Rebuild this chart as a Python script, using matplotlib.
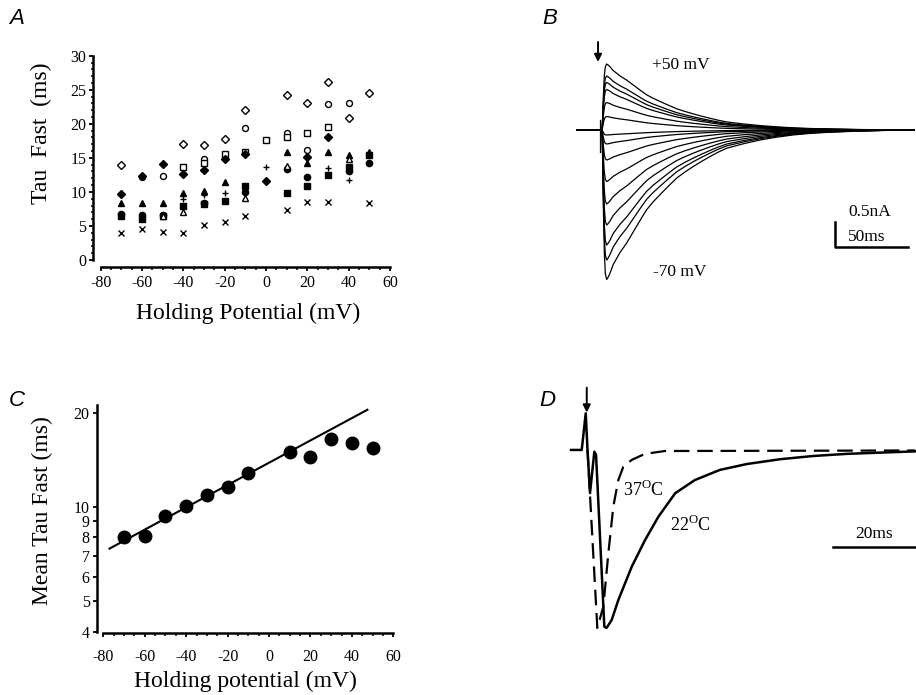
import numpy as np
import matplotlib
matplotlib.use('Agg')
import matplotlib.pyplot as plt
from matplotlib.ticker import MultipleLocator, FixedLocator, NullLocator, FixedFormatter

plt.rcParams['font.family'] = ['Liberation Serif', 'DejaVu Serif']
plt.rcParams['mathtext.fontset'] = 'custom'
plt.rcParams['mathtext.rm'] = 'Liberation Serif'
plt.rcParams['axes.unicode_minus'] = False

nan = np.nan

# ── A: tau fast per cell vs holding potential ────────────────────────────
HOLD_MV = [-70, -60, -50, -40, -30, -20, -10, 0, 10, 20, 30, 40, 50]
TAU_OPEN_DIAMOND    = [13.9, nan, nan, 17.0, 16.9, 17.8, 22.0, nan, 24.2, 23.1, 26.1, 20.8, 24.5]
TAU_OPEN_CIRCLE     = [nan, 12.2, 12.3, nan, 14.9, nan, 19.4, nan, 18.7, 16.1, 22.9, 23.1, nan]
TAU_OPEN_SQUARE     = [nan, nan, nan, 13.6, 14.2, 15.6, 15.8, 17.6, 18.1, 18.7, 19.5, nan, nan]
TAU_FILLED_DIAMOND  = [9.7, 12.4, 14.1, 12.7, 13.2, 14.9, 15.5, 11.6, nan, 15.1, 18.0, nan, nan]
TAU_FILLED_TRIANGLE = [8.4, 8.4, 8.4, 9.8, 10.2, 11.4, nan, nan, 15.8, 14.2, 15.8, 15.4, 15.8]
TAU_PLUS            = [nan, nan, nan, 8.9, 9.5, 9.8, nan, 13.6, nan, nan, 13.5, 11.7, nan]
TAU_FILLED_CIRCLE   = [6.7, 6.6, 6.6, nan, 8.4, nan, 10.0, nan, 13.3, 12.2, nan, 13.1, 14.2]
TAU_FILLED_SQUARE   = [6.4, 6.0, 6.4, 7.9, 8.2, 8.7, 10.8, nan, 9.9, 10.9, 12.5, 13.6, 15.4]
TAU_OPEN_TRIANGLE   = [nan, nan, 6.4, 7.1, nan, nan, 9.1, nan, 13.8, nan, nan, 14.9, nan]
TAU_CROSS           = [4.0, 4.5, 4.1, 4.0, 5.1, 5.6, 6.4, nan, 7.3, 8.5, 8.5, nan, 8.3]

# ── C: mean tau fast ─────────────────────────────────────────────────────
MEAN_MV  = [-70, -60, -50, -40, -30, -20, -10, 10, 20, 30, 40, 50]
MEAN_TAU = [8.0, 8.07, 9.34, 10.1, 10.9, 11.6, 12.9, 15.0, 14.5, 16.5, 16.0, 15.5]
FIT_MAX_MV = 10
FIT_SPAN = [-77, 47.5]

# ── B: current family (-70 .. +50 mV) ────────────────────────────────────
TRACE_T_MS  = [-15.8, 1.5, 2.3, 3.0, 3.7, 4.6, 5.6, 6.8, 9.1, 11.4, 13.7, 18.3, 21.7,
               25.1, 28.5, 32.0, 36.5, 41.1, 46.8, 52.5, 58.2, 63.9, 69.6, 75.3,
               81.0, 86.8, 98.2, 109.6, 121.0, 132.4, 143.8, 155.3, 175.0, 195.0, 215.0]
TRACE_SHAPE = [0, 0, 0.5, 0.82, 0.96, 1.0, 0.985, 0.96, 0.9, 0.86, 0.82, 0.756, 0.70,
               0.644, 0.588, 0.533, 0.48, 0.433, 0.376, 0.322, 0.281, 0.244, 0.21, 0.178,
               0.148, 0.122, 0.092, 0.067, 0.048, 0.033, 0.023, 0.016, 0.008, 0.003, 0]
PEAK_NA = [1.32, 1.08, 0.95, 0.81, 0.55, 0.27, -0.10, -0.28, -0.60, -1.03,
           -1.48, -1.90, -2.30, -2.60, -2.99]
ARTIFACT_NA = [0.2, -0.44]

# ── D: 22 vs 37 °C (normalised) ──────────────────────────────────────────
T22_MS = [-3.9, -1.29, -0.32, 0.12, 0.73, 1.78, 2.2, 4.22, 4.76, 6.02, 7.63, 10.9,
          14.15, 17.4, 21.5, 26.3, 32.4, 39.0, 47.1, 55.1, 63.3, 71.5, 80.0]
I22    = [0, 0, 0.206, 0, -0.242, -0.01, -0.028, -0.993, -1.0, -0.955, -0.843, -0.656,
          -0.506, -0.375, -0.243, -0.169, -0.112, -0.079, -0.052, -0.034, -0.022, -0.015, -0.008]
T37_MS = [0.12, 2.51, 3.98, 5.2, 6.41, 7.63, 8.85, 10.9, 14.1, 19.0, 80.0]
I37    = [0, -1.0, -0.88, -0.58, -0.318, -0.169, -0.094, -0.056, -0.022, -0.006, -0.003]

W, H = 916, 695
fig = plt.figure(figsize=(W / 100, H / 100), dpi=100)


def rect(x0, y0, x1, y1):
    # pixel box (top-left origin) -> figure fraction
    return [x0 / W, 1 - y1 / H, (x1 - x0) / W, (y1 - y0) / H]


def px(x, y):
    return x / W, 1 - y / H


def style_axis(ax, left_out, bottom_out):
    for s in ['top', 'right']:
        ax.spines[s].set_visible(False)
    ax.spines['left'].set_position(('outward', left_out))
    ax.spines['bottom'].set_position(('outward', bottom_out))
    for s in ['left', 'bottom']:
        ax.spines[s].set_linewidth(1.8)
    ax.tick_params(which='major', direction='out', length=3, width=1.3, labelsize=11.5)
    ax.tick_params(which='minor', direction='out', length=1.8, width=1.1)


# ── panel A ──
axA = fig.add_axes(rect(100.7, 55.7, 390, 260))
series = [
    (TAU_OPEN_DIAMOND, 'D', 'white', 3.8),
    (TAU_OPEN_CIRCLE, 'o', 'white', 4.3),
    (TAU_OPEN_SQUARE, 's', 'white', 4.3),
    (TAU_FILLED_DIAMOND, 'D', 'black', 3.8),
    (TAU_FILLED_TRIANGLE, '^', 'black', 4.6),
    (TAU_PLUS, '+', 'black', 5.0),
    (TAU_FILLED_CIRCLE, 'o', 'black', 4.5),
    (TAU_FILLED_SQUARE, 's', 'black', 4.3),
    (TAU_OPEN_TRIANGLE, '^', 'white', 4.6),
    (TAU_CROSS, 'x', 'black', 4.3),
]
for vals, m, fc, ms in series:
    axA.plot(HOLD_MV, vals, ls='none', marker=m, mfc=fc, mec='black', ms=ms,
             mew=1.0, clip_on=False)
axA.set_xlim(-80, 60)
axA.set_ylim(0, 30)
axA.xaxis.set_major_locator(MultipleLocator(20))
axA.xaxis.set_minor_locator(MultipleLocator(5))
axA.yaxis.set_major_locator(MultipleLocator(5))
axA.yaxis.set_minor_locator(MultipleLocator(1))
style_axis(axA, 5.8, 4.8)
axA.tick_params(axis='y', pad=1.5)
axA.tick_params(axis='x', pad=3)
fig.text(*px(41, 133), 'Tau  Fast  (ms)', rotation=90, ha='center', va='center', fontsize=17)
fig.text(*px(248, 313), 'Holding Potential (mV)', ha='center', va='center', fontsize=17)

# ── panel C ──
axC = fig.add_axes(rect(103.3, 405, 393.3, 631.7))
axC.plot(MEAN_MV, MEAN_TAU, ls='none', marker='o', color='black', ms=9, clip_on=False)
mv = np.array(MEAN_MV)
tau = np.array(MEAN_TAU)
sel = mv <= FIT_MAX_MV
coef = np.polyfit(mv[sel], np.log10(tau[sel]), 1)
axC.plot(FIT_SPAN, 10 ** np.polyval(coef, FIT_SPAN), color='black', lw=1.5, clip_on=False)
axC.set_yscale('log')
axC.set_xlim(-80, 60)
axC.set_ylim(4, 21.2)
axC.xaxis.set_major_locator(MultipleLocator(20))
axC.xaxis.set_minor_locator(MultipleLocator(5))
yt = [4, 5, 6, 7, 8, 9, 10, 20]
axC.yaxis.set_major_locator(FixedLocator(yt))
axC.yaxis.set_major_formatter(FixedFormatter([str(v) for v in yt]))
axC.yaxis.set_minor_locator(NullLocator())
style_axis(axC, 4.8, 1.2)
axC.tick_params(axis='y', pad=2)
axC.tick_params(axis='x', pad=8)
fig.text(*px(42, 511), 'Mean Tau Fast (ms)', rotation=90, ha='center', va='center', fontsize=17)
fig.text(*px(245, 681), 'Holding potential (mV)', ha='center', va='center', fontsize=17)

# ── panel B ──
axB = fig.add_axes(rect(570, 40, 916, 300))
axB.set_xlim(-20.5, 216.4)
axB.set_ylim(-3.4, 1.8)
axB.axis('off')
shape = np.array(TRACE_SHAPE)
for a in PEAK_NA:
    axB.plot(TRACE_T_MS, a * shape, color='black', lw=0.9)
axB.plot([0, 0], ARTIFACT_NA, color='black', lw=0.9)
axB.annotate('', xy=(-1.3, 1.36), xytext=(-1.3, 1.76),
             arrowprops=dict(arrowstyle='-|>', color='black', lw=1.4,
                             mutation_scale=11, shrinkA=0, shrinkB=0))
axB.text(35.6, 1.3, '+50 mV', fontsize=12.5, va='center', ha='left')
axB.text(36.3, -2.84, '-70 mV', fontsize=12.5, va='center', ha='left')
axB.plot([161, 161, 211], [-1.84, -2.34, -2.34], color='black', lw=1.8)
axB.text(170, -1.64, '0.5nA', fontsize=12.5, va='center', ha='left')
axB.text(170, -2.14, '50ms', fontsize=12.5, va='center', ha='left')

# ── panel D ──
axD = fig.add_axes(rect(565, 380, 916, 650))
axD.set_xlim(-5.37, 80.2)
axD.set_ylim(-1.124, 0.393)
axD.axis('off')
axD.plot(T22_MS, I22, color='black', lw=1.8)
axD.plot(T37_MS, I37, color='black', lw=1.6, ls=(0, (7, 3.5)))
axD.annotate('', xy=(-0.07, 0.21), xytext=(-0.07, 0.35),
             arrowprops=dict(arrowstyle='-|>', color='black', lw=1.4,
                             mutation_scale=11, shrinkA=0, shrinkB=0))
axD.text(8.8, -0.225, r'37$^{\rm O}$C', fontsize=13, va='center', ha='left')
axD.text(20.2, -0.42, r'22$^{\rm O}$C', fontsize=13, va='center', ha='left')
axD.plot([60, 80], [-0.545, -0.545], color='black', lw=1.8, clip_on=False)
axD.text(70, -0.515, '20ms', fontsize=12.5, va='bottom', ha='center')

# panel letters
for letter, (x, y) in zip('ABCD', [(17, 18), (550, 18), (17, 400), (547, 400)]):
    fig.text(*px(x, y), letter, fontsize=16, style='italic', ha='center', va='center',
             family=['Liberation Sans', 'DejaVu Sans'])

fig.savefig('out.png', dpi=100)
